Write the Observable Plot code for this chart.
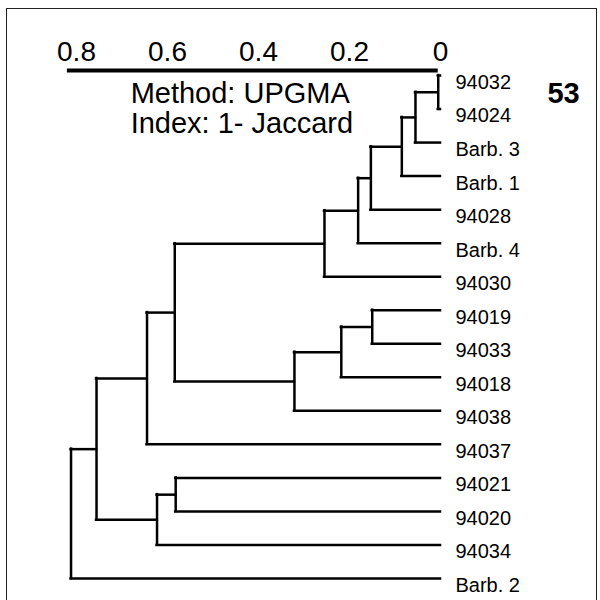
<!DOCTYPE html>
<html>
<head>
<meta charset="utf-8">
<script src="https://cdn.jsdelivr.net/npm/d3@7"></script>
<script src="https://cdn.jsdelivr.net/npm/@observablehq/plot@0.6"></script>
<style>
  html, body { margin: 0; padding: 0; background: #fff; }
  #wrap { position: relative; width: 600px; height: 600px; overflow: hidden; }
  #frame { position: absolute; left: 6px; top: 8px; width: 591px; height: 620px; border: 1.5px solid #222; box-sizing: border-box; }
  #chart { position: absolute; left: 0; top: 0; }
</style>
</head>
<body>
<div id="wrap"><div id="frame"></div><div id="chart"></div></div>
<script>
// Leaves in display order (top to bottom)
const leaves = ["94032", "94024", "Barb. 3", "Barb. 1", "94028", "Barb. 4", "94030",
  "94019", "94033", "94018", "94038", "94037", "94021", "94020", "94034", "Barb. 2"];
// UPGMA merges: child ids (0-15 leaves, 16+ earlier merges) and merge height (1 - Jaccard)
const mergeLeft   = [0, 16, 17, 18, 19, 20, 7, 22, 23, 21, 25, 12, 27, 26, 29];
const mergeRight  = [1, 2, 3, 4, 5, 6, 8, 9, 10, 24, 11, 13, 14, 28, 15];
const mergeHeight = [0.005, 0.055, 0.085, 0.153, 0.181, 0.255, 0.150, 0.218, 0.321,
  0.584, 0.645, 0.582, 0.623, 0.756, 0.812];
const tickValues = [0.8, 0.6, 0.4, 0.2, 0];
const tickLabels = ["0.8", "0.6", "0.4", "0.2", "0"];
const noteLines = ["Method: UPGMA", "Index: 1- Jaccard"];
const panelLabel = "53";

// Build node coordinates
const nodeX = leaves.map(() => 0);
const nodeY = leaves.map((_, i) => i);
const verticals = [];
const horizontals = [];
mergeHeight.forEach((h, k) => {
  const l = mergeLeft[k], r = mergeRight[k];
  verticals.push({x: h, y1: nodeY[l], y2: nodeY[r]});
  horizontals.push({y: nodeY[l], x1: nodeX[l], x2: h});
  horizontals.push({y: nodeY[r], x1: nodeX[r], x2: h});
  nodeX.push(h);
  nodeY.push((nodeY[l] + nodeY[r]) / 2);
});
const leafData = leaves.map((name, i) => ({name, i}));

const chart = Plot.plot({
  width: 600,
  height: 600,
  marginLeft: 76,
  marginRight: 160,
  marginTop: 75,
  marginBottom: 22,
  style: {fontFamily: "'Liberation Sans', Arial, sans-serif", color: "#000", background: "transparent"},
  x: {domain: [0.8, 0]},
  y: {domain: [0, leaves.length - 1], reverse: true, axis: null},
  marks: [
    Plot.axisX(tickValues, {anchor: "top", tickSize: 0, tickPadding: 15, fontSize: 28,
      tickFormat: d => tickLabels[tickValues.indexOf(d)]}),
    Plot.ruleY([0], {x1: 0.82, x2: 0.005, dy: -5, strokeWidth: 4, stroke: "#000"}),
    Plot.ruleY(horizontals, {y: "y", x1: "x1", x2: "x2", stroke: "#000", strokeWidth: 2.5, strokeLinecap: "square"}),
    Plot.ruleX(verticals, {x: "x", y1: "y1", y2: "y2", stroke: "#000", strokeWidth: 2.5, strokeLinecap: "square"}),
    Plot.text(leafData, {x: 0, y: "i", text: "name", textAnchor: "start", dx: 15, dy: 7, fontSize: 20, fill: "#000"}),
    Plot.text([noteLines.join("\n")], {x: 0.681, y: 0.19, textAnchor: "start", lineAnchor: "top", fontSize: 29, lineHeight: 1.03, fill: "#000"}),
    Plot.text([panelLabel], {x: 0, y: 0, dx: 123, dy: 18, fontSize: 29, fontWeight: "bold", fill: "#000"})
  ]
});
document.getElementById("chart").appendChild(chart);
</script>
</body>
</html>
